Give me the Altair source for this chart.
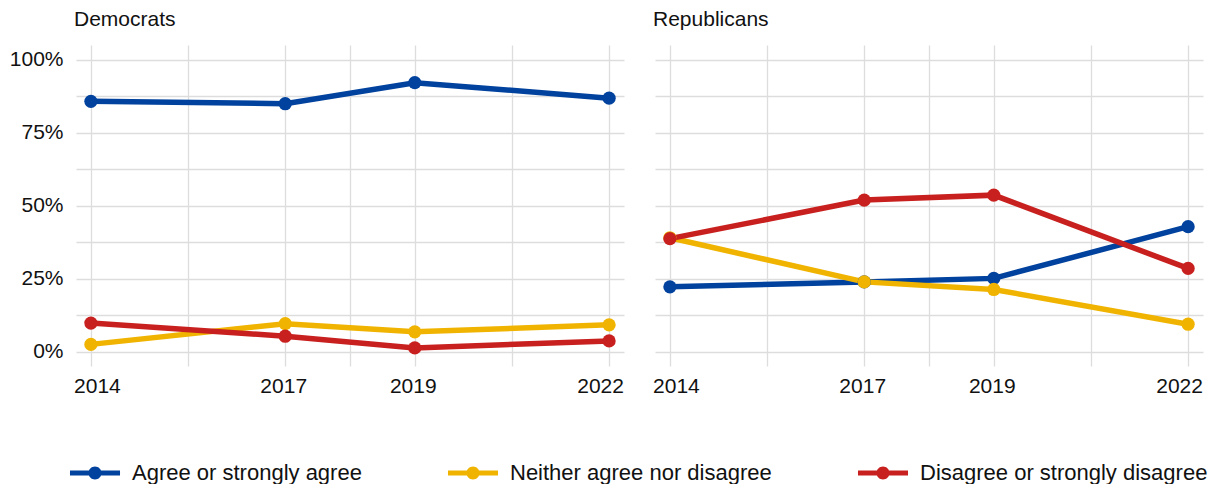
import altair as alt
import pandas as pd

years = [2014, 2017, 2019, 2022]
series = ["Agree or strongly agree", "Neither agree nor disagree", "Disagree or strongly disagree"]
colors = ["#00429d", "#f0b400", "#c8201e"]

dem_agree = [85.8, 85.0, 92.2, 86.9]
dem_neither = [2.6, 9.7, 6.9, 9.3]
dem_disagree = [9.9, 5.4, 1.4, 3.8]

rep_agree = [22.3, 24.0, 25.2, 42.9]
rep_neither = [39.1, 24.0, 21.4, 9.5]
rep_disagree = [38.8, 52.0, 53.7, 28.6]

x_breaks = [2014, 2015.5, 2017, 2018, 2019, 2020.5, 2022]
y_breaks = [0, 12.5, 25, 37.5, 50, 62.5, 75, 87.5, 100]

rows = []
for party, vals in [("Democrats", [dem_agree, dem_neither, dem_disagree]),
                    ("Republicans", [rep_agree, rep_neither, rep_disagree])]:
    for s, v in zip(series, vals):
        for yr, val in zip(years, v):
            rows.append({"party": party, "year": yr, "series": s, "value": val})
df = pd.DataFrame(rows)

FONT = "Liberation Sans, Arial, sans-serif"
# legend glyph: a thick line with a dot in the middle (unit = half symbol size)
SYMBOL = ("M-3.85,-0.4H3.85V0.4H-3.85Z "
          "M1,0A1,1 0 1,1 -1,0A1,1 0 1,1 1,0Z")


def panel(party, show_y):
    base = alt.Chart(df).transform_filter(alt.datum.party == party)
    x = alt.X(
        "year:Q",
        title=None,
        scale=alt.Scale(domain=[2013.77, 2022.23], nice=False, zero=False),
        axis=alt.Axis(
            values=x_breaks,
            format="d",
            labelExpr="indexof([2014, 2017, 2019, 2022], datum.value) >= 0 ? datum.label : ''",
            labelOffset={"condition": [{"test": "datum.value == 2014", "value": 6},
                                       {"test": "datum.value == 2022", "value": -9}],
                         "value": -2},
            labelPadding=9,
            domain=False, ticks=False,
            gridColor="#dddddd", gridWidth=1.3,
            labelFont=FONT, labelFontSize=21, labelColor="#111111",
        ),
    )
    if show_y:
        yaxis = alt.Axis(
            values=y_breaks,
            labelExpr="datum.value % 25 == 0 ? datum.value + '%' : ''",
            labelPadding=13,
            domain=False, ticks=False,
            gridColor="#dddddd", gridWidth=1.3,
            labelFont=FONT, labelFontSize=21, labelColor="#111111",
        )
    else:
        yaxis = alt.Axis(values=y_breaks, labels=False, minExtent=0,
                         domain=False, ticks=False,
                         gridColor="#dddddd", gridWidth=1.3)
    y = alt.Y("value:Q", title=None,
              scale=alt.Scale(domain=[-4.8, 105.1], nice=False, zero=False),
              axis=yaxis)
    color = alt.Color(
        "series:N",
        scale=alt.Scale(domain=series, range=colors),
        legend=alt.Legend(
            title=None,
            orient="none",
            direction="horizontal",
            legendX=8,
            legendY=417,
            symbolType=SYMBOL,
            symbolSize=169,
            symbolStrokeWidth=0,
            symbolOpacity=1,
            labelFont=FONT,
            labelFontSize=22,
            labelColor="#111111",
            labelOffset=26,
            columnPadding=85,
            labelLimit=400,
        ),
    )
    lines = base.mark_line(strokeWidth=5.5).encode(x=x, y=y, color=color)
    points = base.mark_circle(size=175, opacity=1).encode(x=x, y=y, color=color)
    return alt.layer(lines, points).properties(
        width=548,
        height=321,
        title=alt.TitleParams(text=party, anchor="start", frame="group", font=FONT,
                              fontSize=21, fontWeight="normal", color="#111111",
                              offset=15, dx=-2),
    )


chart = alt.hconcat(
    panel("Democrats", True), panel("Republicans", False), spacing=28
).configure_view(stroke=None).properties(
    background="white",
    padding={"left": 1, "top": 1, "right": 5, "bottom": 0},
)

chart.save("out.html", embed_options={"renderer": "svg", "actions": False})
